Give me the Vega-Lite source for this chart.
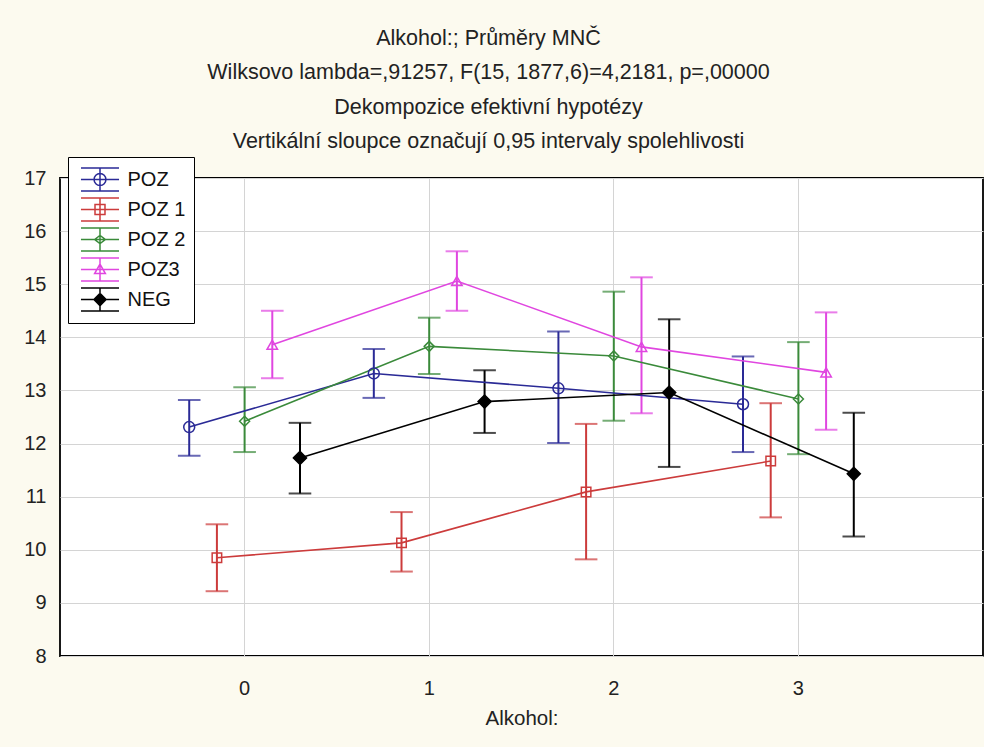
{
  "$schema": "https://vega.github.io/schema/vega-lite/v6.json",
  "width": 923,
  "height": 478,
  "autosize": {"type": "none"},
  "padding": {"left": 60, "top": 178, "right": 1, "bottom": 91},
  "background": "#FCFAEF",
  "title": {
    "text": ["Alkohol:; Průměry MNČ", "Wilksovo lambda=,91257, F(15, 1877,6)=4,2181, p=,00000", "Dekompozice efektivní hypotézy", "Vertikální sloupce označují 0,95 intervaly spolehlivosti"],
    "font": "Liberation Sans",
    "fontSize": 21.5,
    "fontWeight": "normal",
    "color": "#222222",
    "lineHeight": 34.5,
    "anchor": "middle",
    "dx": -33,
    "offset": 4
  },
  "config": {
    "view": {"fill": "#FFFFFF", "stroke": "#000000", "strokeWidth": 1.8},
    "font": "Liberation Sans"
  },
  "data": {
    "values": [
      {"alk": 0, "series": "POZ", "mean": 12.31, "lo": 11.77, "hi": 12.82},
      {"alk": 1, "series": "POZ", "mean": 13.32, "lo": 12.86, "hi": 13.78},
      {"alk": 2, "series": "POZ", "mean": 13.04, "lo": 12.01, "hi": 14.11},
      {"alk": 3, "series": "POZ", "mean": 12.74, "lo": 11.84, "hi": 13.64},
      {"alk": 0, "series": "POZ 1", "mean": 9.85, "lo": 9.22, "hi": 10.48},
      {"alk": 1, "series": "POZ 1", "mean": 10.13, "lo": 9.59, "hi": 10.71},
      {"alk": 2, "series": "POZ 1", "mean": 11.09, "lo": 9.82, "hi": 12.37},
      {"alk": 3, "series": "POZ 1", "mean": 11.67, "lo": 10.61, "hi": 12.76},
      {"alk": 0, "series": "POZ 2", "mean": 12.42, "lo": 11.84, "hi": 13.06},
      {"alk": 1, "series": "POZ 2", "mean": 13.83, "lo": 13.31, "hi": 14.37},
      {"alk": 2, "series": "POZ 2", "mean": 13.65, "lo": 12.43, "hi": 14.86},
      {"alk": 3, "series": "POZ 2", "mean": 12.84, "lo": 11.8, "hi": 13.91},
      {"alk": 0, "series": "POZ3", "mean": 13.86, "lo": 13.23, "hi": 14.5},
      {"alk": 1, "series": "POZ3", "mean": 15.06, "lo": 14.5, "hi": 15.62},
      {"alk": 2, "series": "POZ3", "mean": 13.82, "lo": 12.57, "hi": 15.13},
      {"alk": 3, "series": "POZ3", "mean": 13.34, "lo": 12.26, "hi": 14.47},
      {"alk": 0, "series": "NEG", "mean": 11.73, "lo": 11.06, "hi": 12.39},
      {"alk": 1, "series": "NEG", "mean": 12.79, "lo": 12.2, "hi": 13.38},
      {"alk": 2, "series": "NEG", "mean": 12.96, "lo": 11.56, "hi": 14.34},
      {"alk": 3, "series": "NEG", "mean": 11.43, "lo": 10.25, "hi": 12.58}
    ]
  },
  "encoding": {
    "x": {
      "field": "alk",
      "type": "ordinal",
      "scale": {"paddingInner": 0, "paddingOuter": 0.5},
      "axis": {
        "title": "Alkohol:",
        "titleFont": "Liberation Sans",
        "titleFontSize": 20.5,
        "titleFontWeight": "normal",
        "titleColor": "#222222",
        "titlePadding": 10,
        "labelAngle": 0,
        "labelFontSize": 20,
        "labelColor": "#222222",
        "labelPadding": 22,
        "ticks": false,
        "domain": false,
        "grid": true,
        "gridColor": "#D4D4D4",
        "gridWidth": 1
      }
    },
    "xOffset": {
      "field": "series",
      "type": "nominal",
      "scale": {"domain": ["POZ", "POZ 1", "POZ 2", "POZ3", "NEG"], "paddingInner": 0, "paddingOuter": 0.8333}
    },
    "y": {
      "field": "mean",
      "type": "quantitative",
      "scale": {"domain": [8, 17], "nice": false, "zero": false},
      "axis": {
        "title": null,
        "values": [8, 9, 10, 11, 12, 13, 14, 15, 16, 17],
        "labelFontSize": 20,
        "labelColor": "#222222",
        "labelPadding": 14,
        "ticks": false,
        "domain": false,
        "grid": true,
        "gridColor": "#D4D4D4",
        "gridWidth": 1
      }
    },
    "color": {
      "field": "series",
      "type": "nominal",
      "scale": {
        "domain": ["POZ", "POZ 1", "POZ 2", "POZ3", "NEG"],
        "range": ["#2A2A96", "#CC3B3B", "#3A8A3A", "#E046E0", "#000000"]
      },
      "legend": {
        "title": null,
        "orient": "none",
        "legendX": 8,
        "legendY": -21,
        "padding": 8,
        "fillColor": "#FFFFFF",
        "strokeColor": "#000000",
        "symbolType": "M-1.41,-0.86H1.41M-1.41,0H1.41M-1.41,0.86H1.41M0,-0.86V0.86",
        "symbolSize": 729,
        "symbolStrokeWidth": 1.5,
        "symbolOpacity": 1,
        "symbolFillColor": "transparent",
        "symbolOffset": 9.5,
        "rowPadding": -8,
        "labelOffset": 13,
        "labelFontSize": 20,
        "labelColor": "#111111",
        "labelExpr": "datum.label + '\u00a0\u00a0'",
        "encode": {
          "symbols": {
            "update": {
              "shape": [
                {"test": "datum.value === 'POZ'", "value": "M-1.41,-0.86H1.41M-1.41,0H1.41M-1.41,0.86H1.41M0,-0.86V0.86M-0.44,0A0.44,0.44 0 1,1 0.44,0A0.44,0.44 0 1,1 -0.44,0Z"},
                {"test": "datum.value === 'POZ 1'", "value": "M-1.41,-0.86H1.41M-1.41,0H1.41M-1.41,0.86H1.41M0,-0.86V0.86M-0.37,-0.37H0.37V0.37H-0.37Z"},
                {"test": "datum.value === 'POZ 2'", "value": "M-1.41,-0.86H1.41M-1.41,0H1.41M-1.41,0.86H1.41M0,-0.86V0.86M-0.4,0L0,-0.3L0.4,0L0,0.3Z"},
                {"test": "datum.value === 'POZ3'", "value": "M-1.41,-0.86H1.41M-1.41,0H1.41M-1.41,0.86H1.41M0,-0.86V0.86M0,-0.4L0.4,0.3H-0.4Z"},
                {"value": "M-1.41,-0.86H1.41M-1.41,0H1.41M-1.41,0.86H1.41M0,-0.86V0.86M-0.45,0L0,-0.45L0.45,0L0,0.45ZM-0.3,-0.1H0.3M-0.3,0.1H0.3M-0.2,-0.2H0.2M-0.2,0.2H0.2M-0.1,-0.3H0.1M-0.1,0.3H0.1"}
              ],
              "fill": [
                {"test": "datum.value === 'NEG'", "value": "#000000"},
                {"value": "transparent"}
              ]
            }
          }
        }
      }
    }
  },
  "layer": [
    {
      "mark": {"type": "rule", "strokeWidth": 2},
      "encoding": {
        "y": {"field": "lo", "type": "quantitative"},
        "y2": {"field": "hi"}
      }
    },
    {
      "mark": {"type": "tick", "orient": "horizontal", "size": 21, "thickness": 0.4, "filled": false, "strokeWidth": 1.6},
      "encoding": {"y": {"field": "lo", "type": "quantitative"}}
    },
    {
      "mark": {"type": "tick", "orient": "horizontal", "size": 21, "thickness": 0.4, "filled": false, "strokeWidth": 1.6},
      "encoding": {"y": {"field": "hi", "type": "quantitative"}}
    },
    {
      "mark": {"type": "line", "strokeWidth": 1.6}
    },
    {
      "transform": [{"filter": {"field": "series", "equal": "POZ"}}],
      "mark": {"type": "point", "shape": "circle", "size": 120, "filled": false, "strokeWidth": 1.5, "opacity": 1}
    },
    {
      "transform": [{"filter": {"field": "series", "equal": "POZ 1"}}],
      "mark": {"type": "point", "shape": "square", "size": 90, "filled": false, "strokeWidth": 1.5, "opacity": 1}
    },
    {
      "transform": [{"filter": {"field": "series", "equal": "POZ 2"}}],
      "mark": {"type": "point", "shape": "diamond", "size": 100, "filled": false, "strokeWidth": 1.5, "opacity": 1}
    },
    {
      "transform": [{"filter": {"field": "series", "equal": "POZ3"}}],
      "mark": {"type": "point", "shape": "triangle-up", "size": 110, "filled": false, "strokeWidth": 1.5, "opacity": 1}
    },
    {
      "transform": [{"filter": {"field": "series", "equal": "NEG"}}],
      "mark": {"type": "point", "shape": "diamond", "size": 170, "filled": false, "fill": "#000000", "strokeWidth": 1.5, "opacity": 1}
    }
  ]
}
